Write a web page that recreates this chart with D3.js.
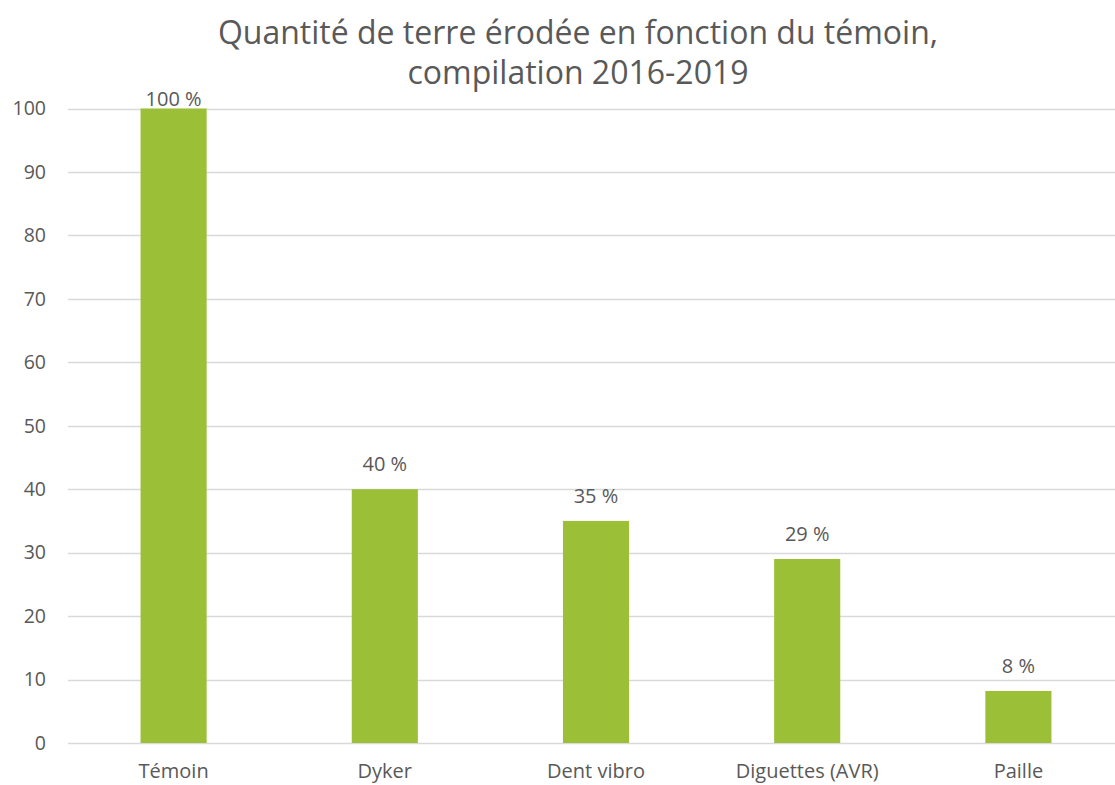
<!DOCTYPE html>
<html>
<head>
<meta charset="utf-8">
<script src="https://cdn.jsdelivr.net/npm/d3@7"></script>
<style>
  body { margin: 0; background: #fff; }
  svg text { font-family: "Open Sans", sans-serif; fill: #595959; }
</style>
</head>
<body>
<div class="chart"></div>
<script>
// data
const categories = ["Témoin", "Dyker", "Dent vibro", "Diguettes (AVR)", "Paille"];
const values = [100, 40, 35, 29, 8.2];
const valueLabels = ["100 %", "40 %", "35 %", "29 %", "8 %"];
const yTicks = [0, 10, 20, 30, 40, 50, 60, 70, 80, 90, 100];
const titleLines = ["Quantité de terre érodée en fonction du témoin,", "compilation 2016-2019"];

const W = 1115, H = 785;

var svg = d3.select(".chart")
  .append("svg")
  .attr("width", W)
  .attr("height", H);

var x = d3.scaleBand()
  .domain(categories)
  .range([68, 1124])
  .paddingInner(0.687)
  .paddingOuter(0.3435);

var y = d3.scaleLinear()
  .domain([0, 100])
  .range([743, 108.5]);

// gridlines
svg.append("g")
  .selectAll("line")
  .data(yTicks)
  .enter().append("line")
  .attr("x1", 68)
  .attr("x2", W)
  .attr("y1", d => Math.round(y(d)) + 0.5)
  .attr("y2", d => Math.round(y(d)) + 0.5)
  .attr("stroke", "#d9d9d9")
  .attr("stroke-width", 1.3);

// y axis labels
var yAxis = d3.axisLeft(y).tickValues(yTicks).tickSize(0).tickPadding(0);
svg.append("g")
  .attr("transform", "translate(46,0)")
  .call(yAxis)
  .call(g => g.select(".domain").remove())
  .selectAll("text")
  .style("font-size", "19.5px")
  .attr("fill", "#595959");

// bars
svg.append("g")
  .selectAll("rect")
  .data(values)
  .enter().append("rect")
  .attr("x", (d, i) => x(categories[i]))
  .attr("width", x.bandwidth())
  .attr("y", d => y(d))
  .attr("height", d => y(0) - y(d))
  .attr("fill", "#9bbf37");

// value labels
svg.append("g")
  .selectAll("text")
  .data(values)
  .enter().append("text")
  .attr("x", (d, i) => x(categories[i]) + x.bandwidth() / 2)
  .attr("y", d => Math.max(y(d) - 18, 105.5))
  .attr("text-anchor", "middle")
  .style("font-size", "20px")
  .text((d, i) => valueLabels[i]);

// category labels
var xAxis = d3.axisBottom(x).tickSize(0).tickPadding(0);
svg.append("g")
  .attr("transform", "translate(0,764)")
  .call(xAxis)
  .call(g => g.select(".domain").remove())
  .selectAll("text")
  .style("font-size", "20px")
  .attr("fill", "#595959");

// title
svg.append("g")
  .selectAll("text")
  .data(titleLines)
  .enter().append("text")
  .attr("x", 578)
  .attr("y", (d, i) => 44 + i * 40)
  .attr("text-anchor", "middle")
  .style("font-size", "32px")
  .text(d => d);
</script>
</body>
</html>
